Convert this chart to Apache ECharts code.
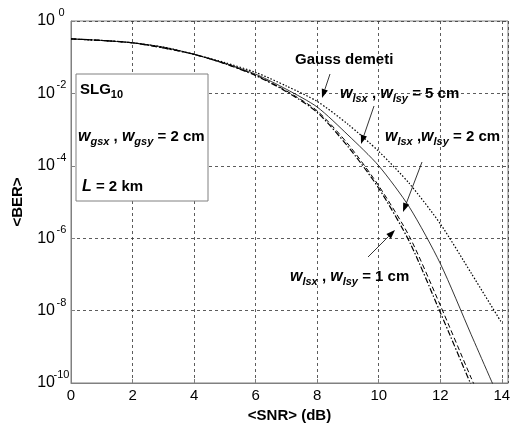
<!DOCTYPE html>
<html lang="en">
<head>
<meta charset="UTF-8">
<title>BER - SNR</title>
<style>
    html, body { margin: 0; padding: 0; background: #fff; }
    #main { width: 524px; height: 428px; }
</style>
</head>
<body>
<div id="main"></div>
<script src="https://cdn.jsdelivr.net/npm/echarts@6/dist/echarts.min.js"></script>
<script>
    const myChart = echarts.init(document.getElementById('main'));

    // SNR (dB)
    const snr = [0, 1, 2, 3, 4, 5, 6, 7, 8, 9, 10, 11, 12, 13, 14];

    // <BER> values
    const berGauss = [3.2e-1, 2.9e-1, 2.5e-1, 1.9e-1, 1.2e-1, 7.1e-2, 3.8e-2, 1.6e-2, 6.0e-3, 1.4e-3, 2.5e-4, 3.2e-5, 2.5e-6, 1.1e-7, 4.5e-9];
    const ber5cm   = [3.2e-1, 2.9e-1, 2.5e-1, 1.9e-1, 1.2e-1, 6.8e-2, 3.4e-2, 1.3e-2, 4.2e-3, 7.1e-4, 1.0e-4, 7.1e-6, 2.0e-7, 2.2e-9, 2.5e-11];
    const ber2cm   = [3.2e-1, 2.9e-1, 2.5e-1, 1.8e-1, 1.2e-1, 6.6e-2, 3.2e-2, 1.17e-2, 3.3e-3, 4.0e-4, 2.8e-5, 1.1e-6, 1.4e-8, 1.4e-10, 1.6e-12];
    const ber1cm   = [3.2e-1, 2.9e-1, 2.5e-1, 1.8e-1, 1.2e-1, 6.6e-2, 3.1e-2, 1.12e-2, 3.0e-3, 3.4e-4, 2.4e-5, 7.9e-7, 8.9e-9, 8.9e-11, 1.0e-12];

    const FONT = "'Liberation Sans', Arial, sans-serif";

    const pairs = ys => snr.map((x, i) => [x, ys[i]]);

    // rich styles for w_lsx etc.
    const rich = {
        n: { fontSize: 15, fontWeight: 'bold', fontFamily: FONT, color: '#000' },
        i: { fontSize: 16, fontStyle: 'italic', fontWeight: 'bold', fontFamily: FONT, color: '#000' },
        s: { fontSize: 11, fontStyle: 'italic', fontWeight: 'bold', fontFamily: FONT, color: '#000', padding: [10, 0, 0, 0] },
        sb: { fontSize: 11, fontWeight: 'bold', fontFamily: FONT, color: '#000', padding: [10, 0, 0, 0] }
    };

    function label(x, y, text) {
        return {
            type: 'text', x, y, z: 20,
            style: { text, rich, verticalAlign: 'middle', align: 'left', font: 'bold 15px ' + FONT }
        };
    }

    function arrow(x1, y1, x2, y2) {
        const a = Math.atan2(y2 - y1, x2 - x1), L = 9, W = 3.2;
        const bx = x2 - L * Math.cos(a), by = y2 - L * Math.sin(a);
        const px = -Math.sin(a) * W, py = Math.cos(a) * W;
        return [
            { type: 'line', z: 20, shape: { x1, y1, x2: bx, y2: by }, style: { stroke: '#000', lineWidth: 0.8 } },
            { type: 'polygon', z: 20, shape: { points: [[x2, y2], [bx + px, by + py], [bx - px, by - py]] }, style: { fill: '#000' } }
        ];
    }

    const gridLine = { show: true, lineStyle: { color: '#333', type: [3, 3], width: 0.8 } };

    const option = {
        animation: false,
        backgroundColor: '#fff',
        grid: {
            left: 71, right: 16, top: 21, bottom: 45,
            show: true, borderColor: '#808080', borderWidth: 1
        },
        xAxis: {
            type: 'value',
            min: 0, max: 14.2, interval: 2,
            name: '<SNR> (dB)',
            nameLocation: 'middle', nameGap: 21,
            nameTextStyle: { fontFamily: FONT, fontSize: 15, fontWeight: 'bold', color: '#000' },
            axisLine: { lineStyle: { color: '#808080' } },
            axisTick: { inside: true, length: 4, lineStyle: { color: '#808080' } },
            axisLabel: { showMaxLabel: false, margin: 5, fontFamily: FONT, fontSize: 15, color: '#000' },
            splitLine: gridLine
        },
        yAxis: {
            type: 'log', logBase: 10,
            min: 1e-10, max: 1,
            interval: 2,
            name: '<BER>',
            nameLocation: 'middle', nameGap: 46,
            nameTextStyle: { fontFamily: FONT, fontSize: 15, fontWeight: 'bold', color: '#000' },
            axisLine: { lineStyle: { color: '#808080' } },
            axisTick: { inside: true, length: 4, lineStyle: { color: '#808080' } },
            minorTick: { show: false },
            axisLabel: {
                margin: 3,
                formatter: v => '{b|10}{e|' + Math.round(Math.log10(v)) + '}',
                rich: {
                    b: { fontFamily: FONT, fontSize: 16, color: '#000' },
                    e: { fontFamily: FONT, fontSize: 11, color: '#000', width: 13, align: 'left', padding: [0, 0, 16, 0] }
                }
            },
            splitLine: gridLine
        },
        series: [
            {
                name: 'Gauss demeti', type: 'line', data: pairs(berGauss), symbol: 'none', smooth: 0.25,
                lineStyle: { color: '#000', width: 1.2, type: [1.5, 1.8] }
            },
            {
                name: 'wlsx, wlsy = 5 cm', type: 'line', data: pairs(ber5cm), symbol: 'none', smooth: 0.25,
                lineStyle: { color: '#000', width: 0.8 }
            },
            {
                name: 'wlsx, wlsy = 2 cm', type: 'line', data: pairs(ber2cm), symbol: 'none', smooth: 0.25,
                lineStyle: { color: '#000', width: 1, type: [5, 3] }
            },
            {
                name: 'wlsx, wlsy = 1 cm', type: 'line', data: pairs(ber1cm), symbol: 'none', smooth: 0.25,
                lineStyle: { color: '#000', width: 1.2, type: [6, 2, 1.5, 2] }
            }
        ],
        graphic: [
            // parameter box
            { type: 'rect', z: 15, shape: { x: 76, y: 74, width: 132, height: 127 },
              style: { fill: '#fff', stroke: '#808080', lineWidth: 1 } },
            label(80, 90, '{n|SLG}{sb|10}'),
            label(78, 137, '{i|w}{s|gsx}{n| , }{i|w}{s|gsy}{n| = 2 cm}'),
            label(82, 187, '{i|L}{n| = 2 km}'),

            // curve annotations
            label(295, 60, '{n|Gauss demeti}'),
            label(340, 94, '{i|w}{s|lsx}{n| , }{i|w}{s|lsy}{n| = 5 cm}'),
            label(385, 137, '{i|w}{s|lsx}{n| ,}{i|w}{s|lsy}{n| = 2 cm}'),
            label(290, 277, '{i|w}{s|lsx}{n| , }{i|w}{s|lsy}{n| = 1 cm}'),
            ...arrow(330, 74, 322, 98),
            ...arrow(374, 106, 361, 144),
            ...arrow(422, 162, 403, 212),
            ...arrow(368, 257, 395, 230)
        ]
    };

    myChart.setOption(option);
</script>
</body>
</html>
